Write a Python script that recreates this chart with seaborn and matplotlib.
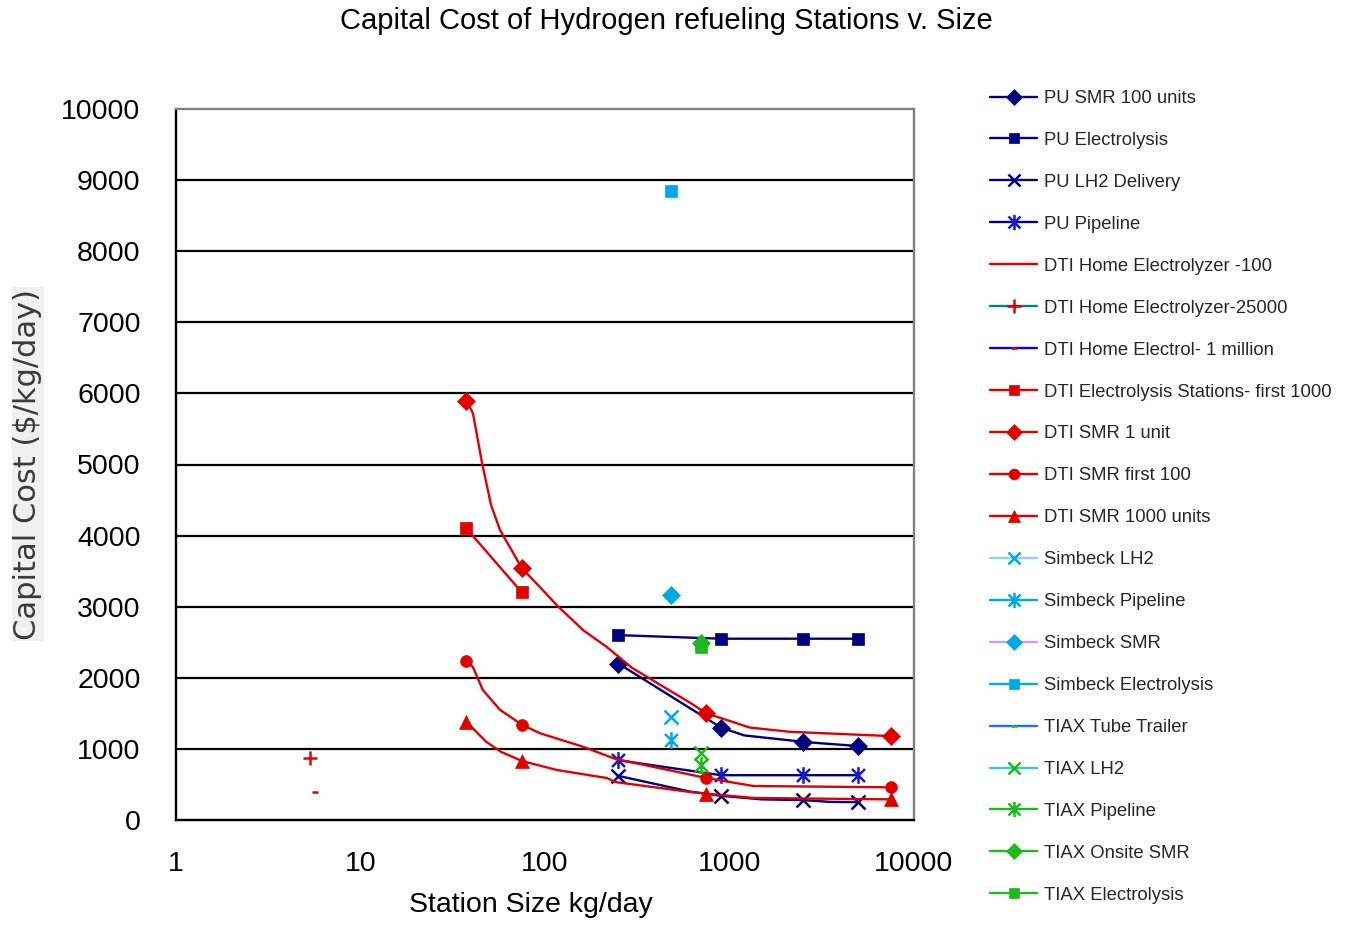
import numpy as np
import pandas as pd
import matplotlib
matplotlib.use("Agg")
import matplotlib.pyplot as plt
from matplotlib.lines import Line2D
from matplotlib.path import Path
from matplotlib.ticker import FixedLocator, NullLocator, FixedFormatter
import seaborn as sns

# ---------------- data ----------------
title = "Capital Cost of Hydrogen refueling Stations v. Size"
x_label = "Station Size kg/day"
y_label = "Capital Cost ($/kg/day)"
x_ticks = [1, 10, 100, 1000, 10000]
x_tick_labels = ["1", "10", "100", "1000", "10000"]
y_ticks = [0, 1000, 2000, 3000, 4000, 5000, 6000, 7000, 8000, 9000, 10000]

pu_smr_x = [250, 900, 1200, 2500, 3100, 5000]
pu_smr_y = [2200, 1300, 1190, 1100, 1080, 1040]
pu_smr_marks = [0, 1, 3, 5]

pu_elec_x = [250, 900, 2500, 5000]
pu_elec_y = [2600, 2550, 2550, 2550]

pu_lh2_x = [250, 610, 900, 1500, 2500, 3500, 5000]
pu_lh2_y = [620, 400, 340, 290, 280, 255, 250]
pu_lh2_marks = [0, 2, 4, 6]

pu_pipe_x = [250, 900, 2500, 5000]
pu_pipe_y = [840, 630, 630, 630]

dti_home25k_x = [5.3]
dti_home25k_y = [870]

dti_home1m_x = [5.7]
dti_home1m_y = [390]

dti_elec_x = [37.5, 75]
dti_elec_y = [4100, 3200]

dti_smr1_x = [37.5, 40.7, 45.6, 51, 57, 75, 92, 116, 161, 217, 296, 611, 750, 1290, 2130, 7500]
dti_smr1_y = [5900, 5720, 5020, 4430, 4080, 3540, 3300, 3020, 2670, 2430, 2140, 1650, 1500, 1300, 1240, 1180]
dti_smr1_marks = [0, 5, 12, 15]

dti_smr100_x = [37.5, 40.7, 46, 57, 75, 94, 161, 240, 750, 1350, 7500]
dti_smr100_y = [2240, 2150, 1830, 1550, 1340, 1220, 1030, 860, 590, 478, 460]
dti_smr100_marks = [0, 4, 8, 10]

dti_smr1000_x = [37.5, 48, 58, 75, 116, 217, 240, 611, 750, 1350, 7500]
dti_smr1000_y = [1380, 1100, 956, 830, 703, 590, 534, 394, 370, 310, 290]
dti_smr1000_marks = [0, 3, 8, 10]

simbeck_lh2_x = [480]
simbeck_lh2_y = [1450]
simbeck_pipe_x = [480]
simbeck_pipe_y = [1120]
simbeck_smr_x = [480]
simbeck_smr_y = [3160]
simbeck_elec_x = [480]
simbeck_elec_y = [8850]

tiax_tube_x = [700]
tiax_tube_y = [680]
tiax_lh2_x = [700]
tiax_lh2_y = [940]
tiax_pipe_x = [700]
tiax_pipe_y = [770]
tiax_smr_x = [700]
tiax_smr_y = [2490]
tiax_elec_x = [700]
tiax_elec_y = [2440]

# ---------------- styles ----------------
NAVY = "#000080"
BLUE = "#1818c8"
RED = "#e00000"
LBLUE = "#00a8e8"
GREEN = "#1fb81f"

asterisk = Path([(0, -1), (0, 1), (-0.78, -0.78), (0.78, 0.78), (-0.78, 0.78), (0.78, -0.78)],
                [Path.MOVETO, Path.LINETO, Path.MOVETO, Path.LINETO, Path.MOVETO, Path.LINETO])

# label, x, y, line colour, marker, marker colour, marker size, markevery
series = [
    ("PU SMR 100 units", pu_smr_x, pu_smr_y, NAVY, "D", NAVY, 9.3, pu_smr_marks),
    ("PU Electrolysis", pu_elec_x, pu_elec_y, NAVY, "s", NAVY, 8, None),
    ("PU LH2 Delivery", pu_lh2_x, pu_lh2_y, NAVY, "x", NAVY, 10, pu_lh2_marks),
    ("PU Pipeline", pu_pipe_x, pu_pipe_y, NAVY, asterisk, BLUE, 12, None),
    ("DTI Home Electrolyzer -100", [], [], RED, None, RED, 0, None),
    ("DTI Home Electrolyzer-25000", dti_home25k_x, dti_home25k_y, "#008080", "+", RED, 10.5, None),
    ("DTI Home Electrol- 1 million", dti_home1m_x, dti_home1m_y, "#0000ff", "_", RED, 5, None),
    ("DTI Electrolysis Stations- first 1000", dti_elec_x, dti_elec_y, RED, "s", RED, 8, None),
    ("DTI SMR 1 unit", dti_smr1_x, dti_smr1_y, RED, "D", RED, 9.3, dti_smr1_marks),
    ("DTI SMR first 100", dti_smr100_x, dti_smr100_y, RED, "o", RED, 8.5, dti_smr100_marks),
    ("DTI SMR 1000 units", dti_smr1000_x, dti_smr1000_y, RED, "^", RED, 10, dti_smr1000_marks),
    ("Simbeck LH2", simbeck_lh2_x, simbeck_lh2_y, "#99ccff", "x", LBLUE, 10, None),
    ("Simbeck Pipeline", simbeck_pipe_x, simbeck_pipe_y, LBLUE, asterisk, LBLUE, 12, None),
    ("Simbeck SMR", simbeck_smr_x, simbeck_smr_y, "#cc99ff", "D", LBLUE, 9.3, None),
    ("Simbeck Electrolysis", simbeck_elec_x, simbeck_elec_y, LBLUE, "s", LBLUE, 8, None),
    ("TIAX Tube Trailer", tiax_tube_x, tiax_tube_y, "#3366ff", "_", GREEN, 5, None),
    ("TIAX LH2", tiax_lh2_x, tiax_lh2_y, "#33cccc", "x", GREEN, 10, None),
    ("TIAX Pipeline", tiax_pipe_x, tiax_pipe_y, GREEN, asterisk, GREEN, 12, None),
    ("TIAX Onsite SMR", tiax_smr_x, tiax_smr_y, GREEN, "D", GREEN, 9.3, None),
    ("TIAX Electrolysis", tiax_elec_x, tiax_elec_y, GREEN, "s", GREEN, 8, None),
]

sns.set_style("white")
plt.rcParams["font.family"] = ["Liberation Sans", "DejaVu Sans"]

W, H = 1346, 927
fig = plt.figure(figsize=(W / 100, H / 100), dpi=100)
L, R, T, B = 176, 914, 109, 820
ax = fig.add_axes([L / W, 1 - B / H, (R - L) / W, (B - T) / H])


def mew_for(mk):
    return 1.8 if (mk in ("x", "+", "_") or mk is asterisk) else 0.5


handles = []
for label, xs, ys, lc, mk, mc, ms, every in series:
    if len(xs) > 0:
        df = pd.DataFrame({"x": xs, "y": ys})
        kw = dict(color=lc, linewidth=1.7, marker=mk, markersize=ms,
                  markerfacecolor=mc, markeredgecolor=mc, markeredgewidth=mew_for(mk))
        if every is not None:
            kw["markevery"] = every
        sns.lineplot(data=df, x="x", y="y", ax=ax, sort=False, estimator=None,
                     legend=False, zorder=3, **kw)
    handles.append(Line2D([], [], color=lc, linewidth=1.7, marker=mk, markersize=ms * 0.92,
                          markerfacecolor=mc, markeredgecolor=mc,
                          markeredgewidth=mew_for(mk), label=label))

ax.set_xscale("log")
ax.set_xlim(1, 10000)
ax.set_ylim(0, 10000)
ax.xaxis.set_major_locator(FixedLocator(x_ticks))
ax.xaxis.set_major_formatter(FixedFormatter(x_tick_labels))
ax.xaxis.set_minor_locator(NullLocator())
ax.yaxis.set_major_locator(FixedLocator(y_ticks))
ax.set_xlabel("")
ax.set_ylabel("")

ax.grid(False)
for yv in y_ticks[1:-1]:
    ax.axhline(yv, color="black", linewidth=1.6, zorder=1)

for s in ("left", "bottom"):
    ax.spines[s].set_color("black")
    ax.spines[s].set_linewidth(1.7)
for s in ("top", "right"):
    ax.spines[s].set_color("#808080")
    ax.spines[s].set_linewidth(1.7)
    ax.spines[s].set_visible(True)

ax.tick_params(axis="both", which="major", direction="out", length=6.5, width=1.6,
               color="black", labelsize=20.5, labelcolor="black")
ax.tick_params(axis="y", pad=19)
ax.tick_params(axis="x", pad=16)
for t in ax.get_xticklabels() + ax.get_yticklabels():
    t.set_fontfamily(["Liberation Sans", "DejaVu Sans"])

fig.text(666 / W, 1 - 21 / H, title, ha="center", va="center", fontsize=21, color="black")
fig.text(531 / W, 1 - 905 / H, x_label, ha="center", va="center", fontsize=20.5, color="black")
fig.text(28 / W, 1 - 464 / H, y_label, ha="center", va="center", rotation=90, fontsize=22,
         color="#3a3a3a", family=["DejaVu Sans"],
         bbox=dict(facecolor="#f0f0f0", edgecolor="none", pad=1))

fig.legend(handles=handles, loc="upper left", bbox_to_anchor=(990 / W, 1 - 90 / H),
           frameon=False, fontsize=13.3, handlelength=2.55, handletextpad=0.38,
           labelspacing=1.35, borderpad=0, borderaxespad=0, numpoints=1)

fig.savefig("out.png", dpi=100, facecolor="white")
